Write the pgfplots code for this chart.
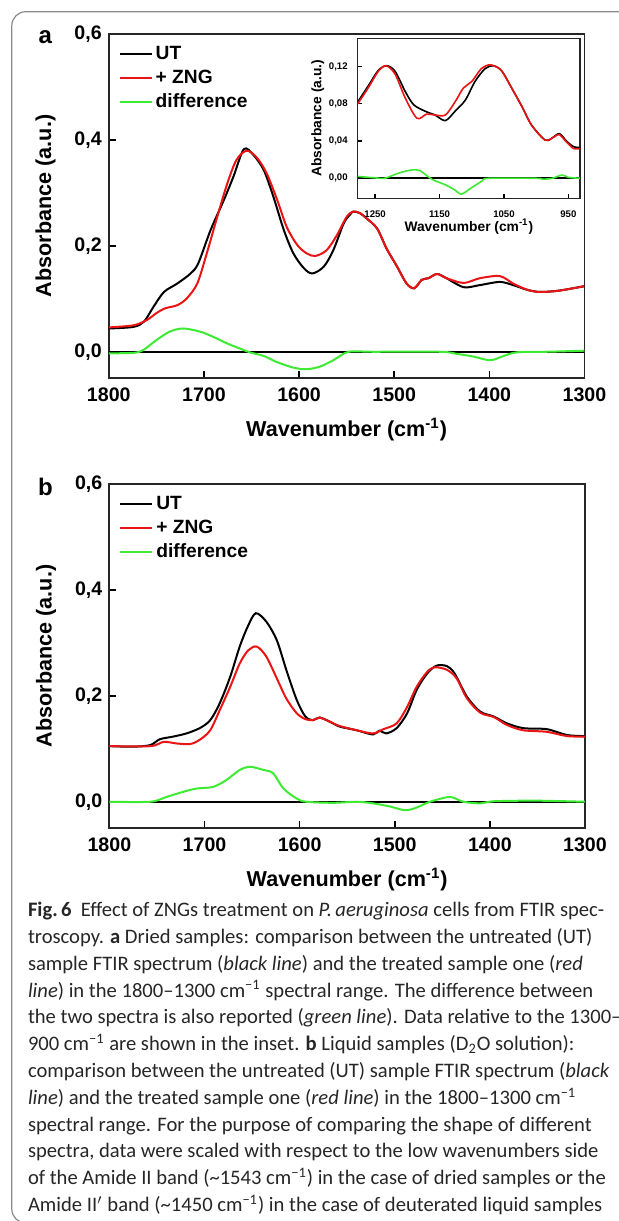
\documentclass[border=0pt]{standalone}
\usepackage{fontspec}
\setmainfont{Liberation Sans}
\newfontfamily\capfont{Carlito}
\usepackage{pgfplots}
\pgfplotsset{compat=1.18}

\definecolor{ftirred}{RGB}{235,20,20}
\definecolor{ftirgreen}{RGB}{60,235,50}
\definecolor{framegray}{RGB}{140,140,140}

\pgfplotsset{
  ftiraxis/.style={
    scale only axis, anchor=south west,
    x dir=reverse,
    axis line style={line width=0.9pt, black!85},
    every tick/.style={black, line width=0.8pt},
    tick align=inside, tick pos=left,
    major tick length=3.5pt,
    /pgf/number format/assume math mode=true,
    /pgf/number format/1000 sep={},
    ticklabel style={font=\bfseries\fontsize{9.8}{11}\selectfont},
    xticklabel style={yshift=-1.5pt},
    yticklabel style={/pgf/number format/use comma, /pgf/number format/fixed,
      /pgf/number format/fixed zerofill, /pgf/number format/precision=1},
    label style={font=\bfseries\fontsize{10.8}{12}\selectfont},
    xlabel style={at={(axis description cs:0.5,-0.152)}, anchor=center},
    ylabel style={at={(axis description cs:-0.133,0.5)}, anchor=center},
    legend style={draw=none, fill=none, at={(0.02,0.972)}, anchor=north west,
      font=\bfseries\fontsize{9.6}{11}\selectfont, row sep=2.6pt, inner sep=0pt,
      nodes={inner ysep=0.5pt, inner xsep=1.5pt, text height=7pt, text depth=1.5pt}},
    legend cell align=left,
    legend image code/.code={\draw[#1] (0pt,0pt) -- (16pt,0pt);},
  },
  utline/.style={black, line width=1pt, smooth},
  zngline/.style={ftirred, line width=1pt, smooth},
  diffline/.style={ftirgreen, line width=1pt, smooth},
  zeroline/.style={black, line width=1pt, forget plot},
}

\begin{document}
\begin{tikzpicture}
\useasboundingbox (0,0) rectangle (309.5pt,610.5pt);
\clip (0,0) rectangle (309.5pt,610.5pt);
\draw[framegray, line width=0.6pt, rounded corners=7pt] (5.9pt,604.65pt) rectangle (330pt,-1pt);

% ---------- panel a ----------
\node[font=\bfseries\fontsize{12}{14}\selectfont] at (22.7pt,592.15pt) {a};
\begin{axis}[ftiraxis, at={(54.4pt,421.65pt)}, width=237.85pt, height=171.7pt,
  xmin=1300, xmax=1800, ymin=-0.049, ymax=0.6,
  xtick={1300,1400,...,1800}, ytick={0,0.2,0.4,0.6},
  xlabel={Wavenumber (cm\textsuperscript{-1})}, ylabel={Absorbance (a.u.)},
]
\addplot[zeroline] coordinates {(1800,0) (1300,0)};
\addplot[utline] coordinates {
 (1800,0.044) (1774,0.047) (1763,0.057) (1753,0.085) (1742,0.113) (1728,0.129)
 (1714,0.148) (1706,0.167) (1693,0.230) (1679,0.287) (1669,0.331) (1658,0.383)
 (1648,0.372) (1637,0.343) (1627,0.293) (1616,0.230) (1606,0.186) (1595,0.158)
 (1586,0.148) (1574,0.161) (1564,0.192) (1553,0.243) (1546,0.260) (1543,0.265)
 (1536,0.262) (1529,0.252) (1518,0.233) (1508,0.195) (1497,0.161) (1487,0.129)
 (1479,0.120) (1471,0.136) (1464,0.139) (1455,0.147) (1445,0.139) (1427,0.122)
 (1410,0.126) (1389,0.132) (1375,0.126) (1360,0.117) (1347,0.113) (1329,0.115)
 (1312,0.120) (1300,0.124)};
\addlegendentry{UT}
\addplot[zngline] coordinates {
 (1800,0.046) (1774,0.050) (1760,0.060) (1750,0.073) (1741,0.082) (1728,0.088)
 (1718,0.101) (1707,0.129) (1697,0.186) (1686,0.255) (1676,0.315) (1666,0.362)
 (1655,0.380) (1644,0.366) (1634,0.337) (1623,0.287) (1613,0.236) (1602,0.202)
 (1592,0.186) (1583,0.181) (1571,0.192) (1560,0.221) (1550,0.255) (1543,0.265)
 (1536,0.262) (1529,0.252) (1518,0.233) (1508,0.195) (1497,0.161) (1487,0.129)
 (1479,0.120) (1471,0.136) (1464,0.139) (1455,0.147) (1445,0.139) (1427,0.130)
 (1410,0.139) (1389,0.143) (1375,0.129) (1360,0.117) (1347,0.113) (1329,0.115)
 (1312,0.120) (1300,0.124)};
\addlegendentry{+ ZNG}
\addplot[diffline] coordinates {
 (1800,-0.003) (1774,-0.002) (1764,0.003) (1750,0.022) (1736,0.038) (1722,0.044)
 (1704,0.038) (1690,0.028) (1676,0.016) (1662,0.006) (1652,-0.001) (1637,-0.008)
 (1624,-0.019) (1606,-0.030) (1592,-0.033) (1578,-0.028) (1564,-0.016) (1548,0.000)
 (1522,0.000) (1452,0.000) (1434,-0.004) (1417,-0.009) (1399,-0.016) (1385,-0.008)
 (1371,-0.001) (1340,0.000) (1300,0.002)};
\addlegendentry{difference}
\end{axis}

% ---------- inset of panel a ----------
\begin{axis}[ftiraxis, at={(178.85pt,511.35pt)}, width=111.15pt, height=80pt,
  xmin=932, xmax=1277, ymin=-0.0215, ymax=0.1505,
  xtick={950,1050,1150,1250}, ytick={0,0.04,0.08,0.12},
  major tick length=2pt,
  axis line style={line width=0.7pt},
  every tick/.style={black, line width=0.6pt},
  ticklabel style={font=\bfseries\fontsize{4.8}{5}\selectfont},
  xticklabel style={yshift=-1pt},
  yticklabel style={/pgf/number format/precision=2, xshift=-1.5pt},
  label style={font=\bfseries\fontsize{6.9}{7.5}\selectfont},
  xlabel style={at={(axis description cs:0.5,-0.175)}},
  ylabel style={at={(axis description cs:-0.18,0.5)}},
  axis background/.style={fill=white},
  xlabel={Wavenumber (cm\textsuperscript{-1})}, ylabel={Absorbance (a.u.)},
  utline/.append style={line width=0.8pt},
  zngline/.append style={line width=0.8pt},
  diffline/.append style={line width=0.8pt},
]
\addplot[black, line width=0.8pt] coordinates {(1277,0) (932,0)};
\addplot[utline] coordinates {
 (1277,0.082) (1260,0.100) (1245,0.116) (1232,0.121) (1219,0.115) (1203,0.093)
 (1190,0.079) (1172,0.072) (1157,0.068) (1141,0.062) (1126,0.072) (1110,0.084)
 (1095,0.104) (1079,0.118) (1066,0.121) (1053,0.115) (1038,0.097) (1022,0.077)
 (1007,0.057) (986,0.041) (976,0.043) (964,0.048) (953,0.040) (942,0.034) (932,0.033)};
\addplot[zngline] coordinates {
 (1277,0.080) (1260,0.098) (1245,0.115) (1233,0.121) (1219,0.112) (1203,0.086)
 (1185,0.0645) (1170,0.069) (1157,0.068) (1141,0.068) (1126,0.082) (1113,0.097)
 (1100,0.104) (1085,0.118) (1072,0.122) (1060,0.119) (1053,0.115) (1038,0.097)
 (1022,0.077) (1007,0.057) (986,0.041) (971,0.045) (964,0.047) (953,0.039)
 (942,0.032) (932,0.032)};
\addplot[diffline] coordinates {
 (1277,0.002) (1250,0.0005) (1235,0) (1214,0.0054) (1193,0.009) (1180,0.008)
 (1162,-0.001) (1141,-0.007) (1126,-0.0126) (1116,-0.017) (1100,-0.010)
 (1084,-0.003) (1074,0) (1000,0) (990,-0.001) (975,0) (960,0.0035) (950,0.001) (932,0)};
\end{axis}

% ---------- panel b ----------
\node[font=\bfseries\fontsize{12}{14}\selectfont] at (22.7pt,367.15pt) {b};
\begin{axis}[ftiraxis, at={(54.7pt,196.65pt)}, width=237.8pt, height=171.85pt,
  xmin=1300, xmax=1800, ymin=-0.049, ymax=0.6,
  xtick={1300,1400,...,1800}, ytick={0,0.2,0.4,0.6},
  xlabel={Wavenumber (cm\textsuperscript{-1})}, ylabel={Absorbance (a.u.)},
]
\addplot[zeroline] coordinates {(1800,0) (1300,0)};
\addplot[utline] coordinates {
 (1800,0.105) (1775,0.104) (1757,0.107) (1747,0.118) (1733,0.123) (1719,0.129)
 (1705,0.139) (1694,0.154) (1684,0.186) (1673,0.236) (1663,0.293) (1654,0.333)
 (1646,0.356) (1635,0.340) (1624,0.305) (1614,0.249) (1603,0.192) (1594,0.161)
 (1586,0.154) (1579,0.159) (1568,0.151) (1558,0.142) (1540,0.135) (1523,0.127)
 (1516,0.134) (1509,0.129) (1498,0.139) (1487,0.167) (1477,0.211) (1466,0.242)
 (1456,0.257) (1445,0.256) (1437,0.242) (1424,0.198) (1410,0.170) (1396,0.161)
 (1382,0.148) (1365,0.139) (1340,0.137) (1319,0.126) (1300,0.124)};
\addlegendentry{UT}
\addplot[zngline] coordinates {
 (1800,0.105) (1757,0.105) (1743,0.113) (1729,0.110) (1715,0.109) (1705,0.117)
 (1694,0.135) (1684,0.173) (1673,0.217) (1663,0.261) (1654,0.286) (1645,0.293)
 (1635,0.274) (1624,0.233) (1614,0.195) (1603,0.167) (1594,0.156) (1586,0.154)
 (1579,0.159) (1568,0.151) (1558,0.143) (1540,0.135) (1523,0.129) (1512,0.137)
 (1498,0.148) (1487,0.179) (1477,0.217) (1466,0.245) (1458,0.254) (1445,0.249)
 (1435,0.233) (1424,0.195) (1410,0.168) (1396,0.160) (1382,0.145) (1365,0.135)
 (1340,0.132) (1319,0.124) (1300,0.123)};
\addlegendentry{+ ZNG}
\addplot[diffline] coordinates {
 (1800,0) (1757,0) (1740,0.009) (1722,0.019) (1708,0.025) (1691,0.028)
 (1677,0.041) (1663,0.060) (1652,0.066) (1638,0.060) (1628,0.054) (1617,0.025)
 (1603,0.006) (1593,0) (1565,-0.002) (1540,0) (1523,-0.003) (1505,-0.009)
 (1489,-0.016) (1477,-0.011) (1463,0) (1442,0.009) (1428,0) (1410,-0.003)
 (1395,0.001) (1350,0.002) (1300,0)};
\addlegendentry{difference}
\end{axis}

% ---------- caption ----------
\begin{scope}[every node/.style={anchor=base west, inner sep=0pt,
    font=\capfont\fontsize{10.3}{12}\selectfont, text=black!85}]
\node at (13.8pt,152.15pt) {\textbf{Fig.\,6}\ \ Effect of ZNGs treatment on \textit{P.\,aeruginosa} cells from FTIR spec-};
\node at (13.8pt,138.75pt) {troscopy. \textbf{a} Dried samples: comparison between the untreated (UT)};
\node at (13.8pt,125.35pt) {sample FTIR spectrum (\textit{black line}) and the treated sample one (\textit{red}};
\node at (13.8pt,111.95pt) {\textit{line}) in the 1800–1300 cm\textsuperscript{−1} spectral range. The difference between};
\node at (13.8pt,98.55pt) {the two spectra is also reported (\textit{green line}). Data relative to the 1300–};
\node at (13.8pt,85.15pt) {900 cm\textsuperscript{−1} are shown in the inset. \textbf{b} Liquid samples (D\textsubscript{2}O solution):};
\node at (13.8pt,71.75pt) {comparison between the untreated (UT) sample FTIR spectrum (\textit{black}};
\node at (13.8pt,58.35pt) {\textit{line}) and the treated sample one (\textit{red line}) in the 1800–1300 cm\textsuperscript{−1}};
\node at (13.8pt,44.95pt) {spectral range. For the purpose of comparing the shape of different};
\node at (13.8pt,31.55pt) {spectra, data were scaled with respect to the low wavenumbers side};
\node at (13.8pt,18.15pt) {of the Amide II band (\textasciitilde1543 cm\textsuperscript{−1}) in the case of dried samples or the};
\node at (13.8pt,4.75pt) {Amide II$^\prime$ band (\textasciitilde1450 cm\textsuperscript{−1}) in the case of deuterated liquid samples};
\end{scope}
\end{tikzpicture}
\end{document}
